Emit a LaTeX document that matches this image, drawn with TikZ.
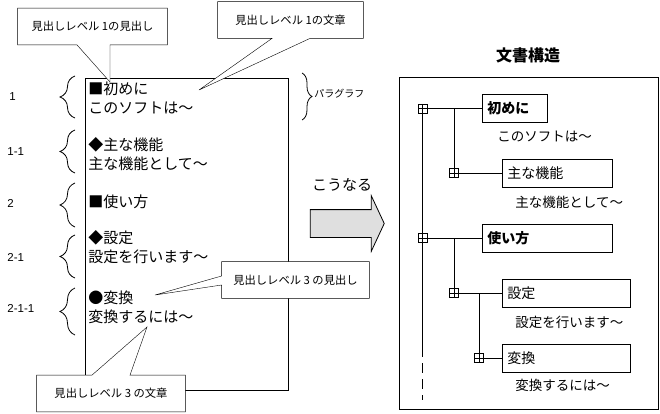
\documentclass[tikz,border=0pt]{standalone}
\usepackage{fontspec}
\setmainfont{Noto Sans CJK JP}
\newfontfamily\levelfont{Liberation Sans}
\usetikzlibrary{shapes.arrows,decorations.pathreplacing,backgrounds}

\begin{document}
\begin{tikzpicture}[x=1pt,y=-1pt,line width=.8pt,
    note/.style={minimum width=#1,minimum height=36pt,inner sep=0pt,font=\fontsize{11.3}{13}\selectfont},
    para/.style={anchor=west,align=left,inner sep=0pt,font=\fontsize{15}{19}\selectfont},
    lvl/.style={anchor=west,inner sep=0pt,font=\levelfont\fontsize{11.5}{13}\selectfont},
    curly/.style={decorate,decoration={brace,amplitude=#1}},
    headbox/.style={draw,anchor=west,text width=#1,align=left,minimum height=28pt,inner xsep=5pt,inner ysep=0pt,font=\fontsize{14}{16}\selectfont},
    boldhead/.style={font=\bfseries\fontsize{14}{16}\selectfont},
    plusbox/.style={draw,minimum size=9pt,inner sep=0pt,line width=.6pt,
        path picture={\draw (path picture bounding box.north) -- (path picture bounding box.south)
                            (path picture bounding box.west) -- (path picture bounding box.east);}},
    body/.style={anchor=west,inner sep=0pt,font=\fontsize{13.5}{16}\selectfont}]
\useasboundingbox (0,0) rectangle (660,414);

%% callouts
      \node [note=149pt] at (92.5,26.5) (hd one) {見出しレベル 1の見出し};
        \node [note=145pt] at (290.5,20) (txt one) {見出しレベル 1の文章};
          \node [note=147pt] at (295.5,280) (hd three) {見出しレベル 3 の見出し};
            \node [note=148pt] at (111,393.5) (txt three) {見出しレベル 3 の文章};
\coordinate (hd one tip) at (110,82);
\coordinate (txt one tip) at (199,90);
\coordinate (hd three tip) at (155,295);
\coordinate (txt three tip) at (147,327);

%% document text
      \node [para] at (88,98) (intro) {■初めに\\このソフトは～};
        \node [para] at (88,154) (features) {◆主な機能\\主な機能として～};
          \node [para] at (88,202) (usage) {■使い方};
            \node [para] at (88,247.5) (setting) {◆設定\\設定を行います～};
              \node [para] at (88,307) (convert) {●変換\\変換するには～};
%
      \node [lvl] at (9,97) (lv a) {1};
        \node [lvl] at (7,152) (lv b) {1-1};
          \node [lvl] at (7,203) (lv c) {2};
            \node [lvl] at (7,257) (lv d) {2-1};
              \node [lvl] at (7,308) (lv e) {2-1-1};
\draw[curly=15pt] (75,118) -- (75,76);
\draw[curly=15pt] (75,173) -- (75,130);
\draw[curly=15pt] (75,227) -- (75,183);
\draw[curly=15pt] (75,278) -- (75,235);
\draw[curly=15pt] (75,335) -- (75,288);
\draw[curly=10pt] (302,73) -- (302,120);
      \node [anchor=west,inner sep=0pt,font=\fontsize{10}{12}\selectfont] at (314,94) (paragraph) {パラグラフ};

%% arrow
      \node [font=\fontsize{15}{17}\selectfont] at (342,185) (kounaru) {こうなる};
      \node [single arrow,draw,fill=gray!25,inner xsep=0pt,inner ysep=13.5pt,minimum height=74pt,
             single arrow head extend=14pt,single arrow tip angle=130] at (344,223.5) (turn) {};

%% structure tree
      \node [font=\bfseries\fontsize{16}{18}\selectfont] at (528,55) (title) {文書構造};
      \node [plusbox] at (422.5,108.5) (p one) {};
        \node [headbox=55pt,boldhead] at (482,108.5) (h one) {初めに};
        \node [body] at (497,137) (b one) {このソフトは～};
      \node [plusbox] at (454,173) (p one one) {};
        \node [headbox=100pt] at (502,173) (h one one) {主な機能};
        \node [body] at (515,202) (b one one) {主な機能として～};
      \node [plusbox] at (422.5,238) (p two) {};
        \node [headbox=120pt,boldhead] at (482,238) (h two) {使い方};
      \node [plusbox] at (454,293) (p two one) {};
        \node [headbox=118pt] at (502,293) (h two one) {設定};
        \node [body] at (515,322) (b two one) {設定を行います～};
      \node [plusbox] at (479,358) (p two one one) {};
        \node [headbox=118pt] at (502,358) (h two one one) {変換};
        \node [body] at (515,385) (b two one one) {変換するには～};
\coordinate (trunk mid) at (422.5,357);
\coordinate (trunk end) at (422.5,400);
%
\path (p one) edge (h one);
\path (p one -| p one one) edge (p one one);
\path (p one one) edge (h one one);
\path (p one) edge (p two);
\path (p two) edge (h two);
\path (p two -| p two one) edge (p two one);
\path (p two one) edge (h two one);
\path (p two one -| p two one one) edge (p two one one);
\path (p two one one) edge (h two one one);
\path (p two) edge (trunk mid);
\path (trunk mid) edge[dash pattern=on 10pt off 6pt,dash phase=10pt] (trunk end);

%% boxes and callout outlines behind
\begin{scope}[on background layer]
\fill[white] (0,0) rectangle (660,414);
\draw (85,78) rectangle (288,390);
\draw (399,77) rectangle (658,409);
\draw[fill=white] (hd one.north west) -- (hd one.north east) -- (hd one.south east) -- ([xshift=17.5pt]hd one.south)
    -- (hd one tip) -- ([xshift=-15.5pt]hd one.south) -- (hd one.south west) -- cycle;
\draw[fill=white] (txt one.north west) -- (txt one.north east) -- (txt one.south east)
    -- ([xshift=19.5pt]txt one.south) -- (txt one tip) -- ([xshift=-18.5pt]txt one.south) -- (txt one.south west) -- cycle;
\draw[fill=white] (hd three.north west) -- (hd three.north east) -- (hd three.south east) -- (hd three.south west)
    -- ([yshift=-5pt]hd three.west) -- (hd three tip) -- ([yshift=4pt]hd three.west) -- cycle;
\draw[fill=white] (txt three.north west) -- ([xshift=-19pt]txt three.north) -- (txt three tip)
    -- ([xshift=19pt]txt three.north) -- (txt three.north east) -- (txt three.south east) -- (txt three.south west) -- cycle;
\end{scope}

\end{tikzpicture}
\end{document}
